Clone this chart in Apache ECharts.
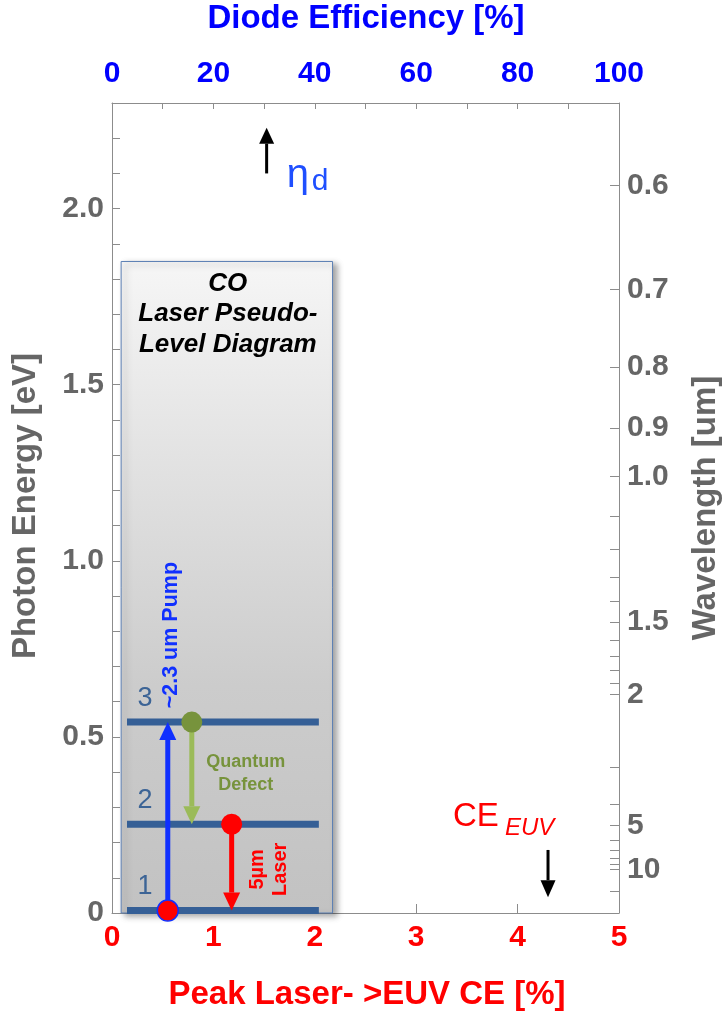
<!DOCTYPE html>
<html>
<head>
<meta charset="utf-8">
<script src="https://cdn.jsdelivr.net/npm/echarts@6/dist/echarts.min.js"></script>
<style>
  html, body { margin: 0; padding: 0; background: #ffffff; }
  #chart { width: 724px; height: 1013px; }
</style>
</head>
<body>
<div id="chart"></div>
<script>
// Photon energy (eV) <-> wavelength (um): E = HC / lambda
const HC = 1.2398;

// Bottom axis: peak laser -> EUV conversion efficiency [%]
const ceTicks = [0, 1, 2, 3, 4, 5];
// Top axis: diode efficiency [%]
const diodeLabelValues = [0, 20, 40, 60, 80, 100];
// Left axis: photon energy [eV]
const energyLabelValues = [0, 0.5, 1.0, 1.5, 2.0];
const energyLabelText = ['0', '0.5', '1.0', '1.5', '2.0'];
// Right axis: wavelength [um]
const wavelengthTicks = [0.6, 0.7, 0.8, 0.9, 1.0, 1.1, 1.2, 1.3, 1.4, 1.5, 1.6, 1.7, 1.8, 1.9,
                         2, 3, 4, 5, 6, 7, 8, 9, 10, 20];
const wavelengthLabelValues = [0.6, 0.7, 0.8, 0.9, 1.0, 1.5, 2, 5, 10];
const wavelengthLabelText = ['0.6', '0.7', '0.8', '0.9', '1.0', '1.5', '2', '5', '10'];

// CO laser pseudo-level diagram
const boxCeRange = [0.09, 2.175];
const boxEnergyRange = [0, 1.85];
const boxTitle = ['CO', 'Laser Pseudo-', 'Level Diagram'];
const levelNames = ['1', '2', '3'];
const levelEnergies = [0.007, 0.252, 0.542];
const levelCeRange = [0.148, 2.04];

// Transitions between levels (CE-axis position, start level, end level)
const transitionNames = ['~2.3 um Pump', 'Quantum\nDefect', '5µm\nLaser'];
const transitionCe = [0.55, 0.787, 1.18];
const transitionFrom = [0, 2, 1];
const transitionTo = [2, 1, 0];

// Marker arrows pointing at the axes
const diodeMarker = 30.5;            // on the diode-efficiency axis
const diodeMarkerEnergy = [2.10, 2.23];
const ceMarker = 4.3;                // on the CE axis
const ceMarkerEnergy = [0.179, 0.045];

const FONT = '"Liberation Sans", Arial, Helvetica, sans-serif';
const GRAY = '#666666';
const AXIS = '#8c8c8c';
const BLUE = '#0000ff';
const RED = '#ff0000';

const transitionStyle = [
  { arrow: '#1030ff', dot: RED, dotStroke: '#1030ff', text: '#1030ff', size: 21.5, rotate: true, dx: 3, at: 'tip', dy: -87, lh: 22 },
  { arrow: '#9bbb59', dot: '#77933c', dotStroke: null, text: '#77933c', size: 18, rotate: false, dx: 54, at: 'mid', dy: 0, lh: 23 },
  { arrow: RED, dot: RED, dotStroke: null, text: RED, size: 20, rotate: true, dx: 37, at: 'mid', dy: 2, lh: 23 }
];

function labelFor(values, texts) {
  return function (v) {
    for (let i = 0; i < values.length; i++) {
      if (Math.abs(values[i] - v) < 1e-6) return texts[i];
    }
    return '';
  };
}

const wavelengthEnergies = wavelengthLabelValues.map(l => HC / l);

function arrowV(x, y0, y1, color, shaftW, headW, headL) {
  const dir = y1 > y0 ? 1 : -1;
  const yb = y1 - dir * headL;
  return [
    { type: 'line', shape: { x1: x, y1: y0, x2: x, y2: yb }, style: { stroke: color, lineWidth: shaftW } },
    { type: 'polygon', shape: { points: [[x - headW / 2, yb], [x + headW / 2, yb], [x, y1]] }, style: { fill: color } }
  ];
}

const chart = echarts.init(document.getElementById('chart'), null, { renderer: 'canvas' });

const tickLabel = (color) => ({ color, fontSize: 30, fontWeight: 'bold', fontFamily: FONT });

const option = {
  animation: false,
  backgroundColor: '#ffffff',
  grid: { left: 112, right: 105, top: 103, bottom: 100, containLabel: false },
  xAxis: [
    {
      type: 'value', position: 'bottom', min: 0, max: 5, interval: 1,
      axisLine: { show: true, onZero: false, lineStyle: { color: AXIS, width: 1 } },
      axisTick: { show: true, inside: true, length: 9, lineStyle: { color: AXIS } },
      axisLabel: Object.assign(tickLabel(RED), { margin: 10, customValues: ceTicks }),
      splitLine: { show: false }
    },
    {
      type: 'value', position: 'top', min: 0, max: 100, interval: 10,
      axisLine: { show: true, onZero: false, lineStyle: { color: AXIS, width: 1 } },
      axisTick: { show: true, inside: true, length: 6, lineStyle: { color: AXIS } },
      axisLabel: Object.assign(tickLabel(BLUE), {
        margin: 14, customValues: diodeLabelValues,
        formatter: v => (diodeLabelValues.indexOf(v) >= 0 ? String(v) : '')
      }),
      splitLine: { show: false }
    }
  ],
  yAxis: [
    {
      type: 'value', position: 'left', min: 0, max: 2.3, interval: 0.1,
      axisLine: { show: true, onZero: false, lineStyle: { color: AXIS, width: 1 } },
      axisTick: { show: true, inside: true, length: 8, lineStyle: { color: AXIS } },
      axisLabel: Object.assign(tickLabel(GRAY), {
        margin: 8, customValues: energyLabelValues,
        formatter: labelFor(energyLabelValues, energyLabelText)
      }),
      splitLine: { show: false }
    },
    {
      type: 'value', position: 'right', min: 0, max: 2.3,
      axisLine: { show: true, onZero: false, lineStyle: { color: AXIS, width: 1 } },
      axisTick: { show: true, inside: true, length: 9, lineStyle: { color: AXIS },
                  customValues: wavelengthTicks.map(l => HC / l) },
      axisLabel: Object.assign(tickLabel(GRAY), {
        margin: 8, customValues: wavelengthEnergies,
        formatter: labelFor(wavelengthEnergies, wavelengthLabelText)
      }),
      splitLine: { show: false }
    }
  ],
  graphic: [
    { type: 'text', x: 366, y: 19, style: { text: 'Diode Efficiency [%]', fill: BLUE, fontSize: 33, fontWeight: 'bold', fontFamily: FONT, align: 'center', verticalAlign: 'middle' } },
    { type: 'text', x: 367, y: 995, style: { text: 'Peak Laser- >EUV CE [%]', fill: RED, fontSize: 33, fontWeight: 'bold', fontFamily: FONT, align: 'center', verticalAlign: 'middle' } },
    { type: 'text', x: 26, y: 506, rotation: Math.PI / 2, style: { text: 'Photon Energy [eV]', fill: GRAY, fontSize: 33, fontWeight: 'bold', fontFamily: FONT, align: 'center', verticalAlign: 'middle' } },
    { type: 'text', x: 706, y: 508, rotation: Math.PI / 2, style: { text: 'Wavelength [um]', fill: GRAY, fontSize: 33, fontWeight: 'bold', fontFamily: FONT, align: 'center', verticalAlign: 'middle' } }
  ],
  series: [
    // shaded diagram panel
    {
      type: 'custom', xAxisIndex: 0, yAxisIndex: 0, z: 1, silent: true,
      data: [[boxCeRange[0], boxCeRange[1], boxEnergyRange[0], boxEnergyRange[1]]],
      renderItem: function (params, api) {
        const tl = api.coord([api.value(0), api.value(3)]);
        const br = api.coord([api.value(1), api.value(2)]);
        const cx = (tl[0] + br[0]) / 2;
        const children = [{
          type: 'rect',
          shape: { x: tl[0], y: tl[1], width: br[0] - tl[0], height: br[1] - tl[1] },
          style: {
            fill: new echarts.graphic.LinearGradient(0, 0, 0, 1, [
              { offset: 0, color: '#f6f6f6' }, { offset: 0.65, color: '#cccccc' }, { offset: 1, color: '#c2c2c2' }
            ]),
            stroke: '#5b7fb3', lineWidth: 1,
            shadowBlur: 6, shadowOffsetX: 4, shadowOffsetY: 3, shadowColor: 'rgba(0,0,0,0.35)'
          }
        }];
        boxTitle.forEach((t, i) => {
          children.push({
            type: 'text', x: cx + 1, y: tl[1] + 22 + i * 30.5,
            style: { text: t, fill: '#000000', fontSize: 26, fontWeight: 'bold', fontStyle: 'italic', fontFamily: FONT, align: 'center', verticalAlign: 'middle' }
          });
        });
        return { type: 'group', children };
      }
    },
    // energy levels
    {
      type: 'custom', xAxisIndex: 0, yAxisIndex: 0, z: 2, silent: true,
      data: levelEnergies.map(e => [levelCeRange[0], levelCeRange[1], e]),
      renderItem: function (params, api) {
        const a = api.coord([api.value(0), api.value(2)]);
        const b = api.coord([api.value(1), api.value(2)]);
        return {
          type: 'group', children: [
            { type: 'line', shape: { x1: a[0], y1: a[1], x2: b[0], y2: b[1] }, style: { stroke: '#355f96', lineWidth: 7 } },
            { type: 'text', x: a[0] + 18, y: a[1] - 24, style: { text: levelNames[params.dataIndex], fill: '#3c6496', fontSize: 27, fontFamily: FONT, align: 'center', verticalAlign: 'middle' } }
          ]
        };
      }
    },
    // transitions: arrows, start dots, labels
    {
      type: 'custom', xAxisIndex: 0, yAxisIndex: 0, z: 3, silent: true,
      data: transitionCe.map((x, i) => [x, levelEnergies[transitionFrom[i]], levelEnergies[transitionTo[i]]]),
      renderItem: function (params, api) {
        const i = params.dataIndex;
        const st = transitionStyle[i];
        const p0 = api.coord([api.value(0), api.value(1)]);
        const p1 = api.coord([api.value(0), api.value(2)]);
        const children = arrowV(p0[0], p0[1], p1[1], st.arrow, 5, 17, 18);
        children.push({
          type: 'circle', shape: { cx: p0[0], cy: p0[1], r: 10.5 },
          style: { fill: st.dot, stroke: st.dotStroke || null, lineWidth: st.dotStroke ? 1.5 : 0 }
        });
        const ly = (st.at === 'tip' ? p1[1] : (p0[1] + p1[1]) / 2) + st.dy;
        children.push({
          type: 'text', x: p0[0] + st.dx, y: ly, rotation: st.rotate ? Math.PI / 2 : 0,
          style: { text: transitionNames[i], fill: st.text, fontSize: st.size, fontWeight: 'bold', fontFamily: FONT, align: 'center', verticalAlign: 'middle', lineHeight: st.lh }
        });
        return { type: 'group', children };
      }
    },
    // diode efficiency marker
    {
      type: 'custom', xAxisIndex: 1, yAxisIndex: 0, z: 3, silent: true,
      data: [[diodeMarker, diodeMarkerEnergy[0], diodeMarkerEnergy[1]]],
      renderItem: function (params, api) {
        const p0 = api.coord([api.value(0), api.value(1)]);
        const p1 = api.coord([api.value(0), api.value(2)]);
        const children = arrowV(p0[0], p0[1], p1[1], '#000000', 3, 15, 16);
        children.push({ type: 'text', x: p0[0] + 20, y: p0[1] + 3, style: { text: 'η', fill: '#1f4fff', fontSize: 40, fontFamily: FONT, align: 'left', verticalAlign: 'middle' } });
        children.push({ type: 'text', x: p0[0] + 45, y: p0[1] + 8, style: { text: 'd', fill: '#1f4fff', fontSize: 30, fontFamily: FONT, align: 'left', verticalAlign: 'middle' } });
        return { type: 'group', children };
      }
    },
    // CE marker
    {
      type: 'custom', xAxisIndex: 0, yAxisIndex: 0, z: 3, silent: true,
      data: [[ceMarker, ceMarkerEnergy[0], ceMarkerEnergy[1]]],
      renderItem: function (params, api) {
        const p0 = api.coord([api.value(0), api.value(1)]);
        const p1 = api.coord([api.value(0), api.value(2)]);
        const children = arrowV(p0[0], p0[1], p1[1], '#000000', 3, 15, 17);
        children.push({ type: 'text', x: p0[0] - 95, y: p0[1] - 33, style: { text: 'CE', fill: RED, fontSize: 33, fontFamily: FONT, align: 'left', verticalAlign: 'middle' } });
        children.push({ type: 'text', x: p0[0] - 43, y: p0[1] - 22, style: { text: 'EUV', fill: RED, fontSize: 24, fontStyle: 'italic', fontFamily: FONT, align: 'left', verticalAlign: 'middle' } });
        return { type: 'group', children };
      }
    }
  ]
};

chart.setOption(option);
</script>
</body>
</html>
